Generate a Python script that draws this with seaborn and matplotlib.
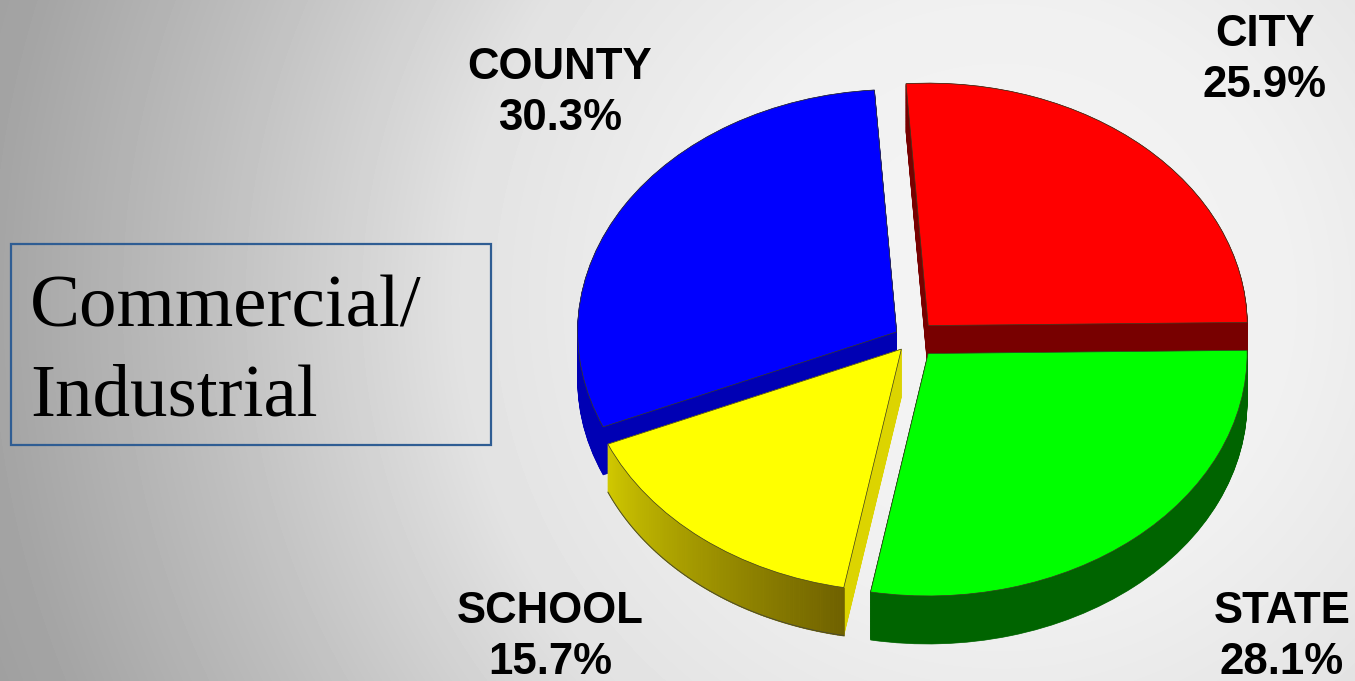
"""Commercial/Industrial share pie, drawn tilted with an extruded side."""

import numpy as np
import matplotlib.pyplot as plt
from matplotlib.patches import Rectangle
import seaborn as sns

# ── data ──────────────────────────────────────────────
names = ["CITY", "STATE", "SCHOOL", "COUNTY"]
shares = [25.9, 28.1, 15.7, 30.3]
top_colors = ["#ff0000", "#00ff00", "#ffff00", "#0000ff"]
side_colors = ["#780000", "#006400", "#dcd400", "#0000b4"]
title_lines = ["Commercial/", "Industrial"]

W, H = 1355, 681
SQUASH = 0.76   # vertical tilt of the pie
RADIUS = 319
DROP = 48 / SQUASH
CENTER = (912, (H - 339) / SQUASH)
explode = [24, 25, 17, 18]
layer = [1, 3, 3, 1]   # back slices first, front slices cover them
label_pos = [(1265, 60), (1282, 637), (550, 637), (560, 93)]

sns.set_theme(style="white")
plt.rcParams["font.family"] = ["Liberation Sans", "DejaVu Sans"]

fig = plt.figure(figsize=(W / 100, H / 100), dpi=100)

# ── background gradient ───────────────────────────────
bg = fig.add_axes([0, 0, 1, 1])
yy, xx = np.mgrid[0:H, 0:W]
dist = np.hypot(xx - 1000, yy - 300)
shade = np.interp(dist, [0, 300, 543, 618, 800, 1000, 1200],
                  [245, 240, 226, 215, 190, 165, 150])
bg.imshow(shade, cmap="gray", vmin=0, vmax=255, aspect="auto",
          extent=(0, W, H, 0), interpolation="bilinear")
bg.axis("off")

# ── pie ───────────────────────────────────────────────
ax = fig.add_axes([0, 0, 1, 1])
ax.patch.set_alpha(0)

pie_args = dict(explode=explode, startangle=94, counterclock=False,
                radius=RADIUS)

# stacked pies give the extruded wall
for off in np.arange(DROP, 0, -1.0):
    walls, _ = ax.pie(shares, colors=side_colors,
                      center=(CENTER[0], CENTER[1] - off), **pie_args)
    for w, z in zip(walls, layer):
        w.set_zorder(z)
        w.set_edgecolor(w.get_facecolor())
        w.set_linewidth(0.5)

tops, _ = ax.pie(shares, colors=top_colors, center=CENTER,
                 wedgeprops=dict(edgecolor="#3a3a20", linewidth=0.5), **pie_args)
for w, z in zip(tops, layer):
    w.set_zorder(z + 1)

# yellow slice has a shaded outer wall
school = tops[names.index("SCHOOL")]
th = np.radians(np.linspace(school.theta1, school.theta2, 90))
arc_x = school.center[0] + RADIUS * np.cos(th)
arc_y = school.center[1] + RADIUS * np.sin(th)
order = np.argsort(arc_x)
arc_x, arc_y = arc_x[order], arc_y[order]
c_left, c_right = np.array([208, 200, 0]) / 255, np.array([112, 98, 0]) / 255
for i in range(len(arc_x) - 1):
    t = i / (len(arc_x) - 2)
    ax.fill_between(arc_x[i:i + 2], arc_y[i:i + 2] - DROP, arc_y[i:i + 2],
                    color=c_left + (c_right - c_left) * t, lw=0.6, zorder=3.5)
ax.plot(arc_x, arc_y - DROP, color="#4a4a30", lw=0.7, zorder=3.6)

ax.set_aspect("auto")
ax.set_xlim(0, W)
ax.set_ylim(0, H / SQUASH)
ax.axis("off")

# ── labels ────────────────────────────────────────────
for name, share, (x, y) in zip(names, shares, label_pos):
    fig.text(x / W, 1 - y / H, f"{name}\n{share}%", ha="center", va="center",
             fontsize=31.5, fontweight="bold", color="black", linespacing=1.34)

# ── boxed title ───────────────────────────────────────
fig.add_artist(Rectangle((11 / W, 1 - 445 / H), 480 / W, 201 / H,
                         transform=fig.transFigure, fill=False,
                         edgecolor="#2f5d93", linewidth=1.6))
for line, base in zip(title_lines, [327, 415]):
    fig.text(30 / W, 1 - base / H, line, ha="left", va="baseline", fontsize=54,
             color="black", family=["Liberation Serif", "DejaVu Serif"])

fig.savefig("out.png", dpi=100)
plt.close(fig)
